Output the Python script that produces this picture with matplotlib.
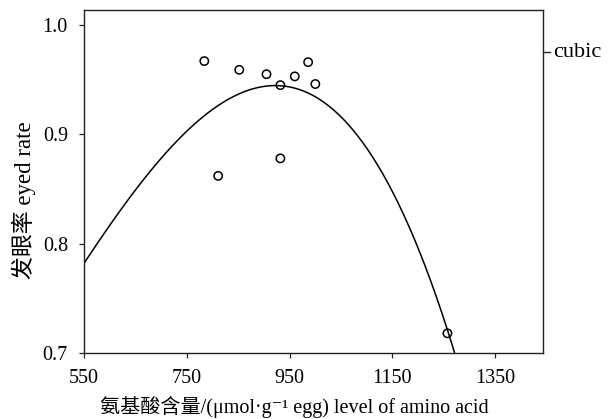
import numpy as np
import matplotlib
matplotlib.use("Agg")
import matplotlib.pyplot as plt

# data
amino_level = [784, 811, 852, 905, 932, 932, 960, 986, 1000, 1257]
eyed_rate = [0.967, 0.862, 0.959, 0.955, 0.945, 0.878, 0.953, 0.966, 0.946, 0.718]
x_ticks = [550, 750, 950, 1150, 1350]
y_ticks = [0.7, 0.8, 0.9, 1.0]

serif = ['Liberation Serif', 'DejaVu Serif']
cjk = ['Liberation Serif', 'Noto Sans CJK SC', 'DejaVu Sans']

fig = plt.figure(figsize=(6.12, 4.19), dpi=100)
ax = fig.add_axes([0.1373, 0.1575, 0.75, 0.8186])

# cubic model as fitted (SPSS "cubic" with the linear term dropped: a + b*x^2 + c*x^3)
x = np.array(amino_level, float)
y = np.array(eyed_rate)
A = np.column_stack([np.ones_like(x), x**2, x**3])
c = np.linalg.lstsq(A, y, rcond=None)[0]
xs = np.linspace(550, 1443, 600)
ax.plot(xs, c[0] + c[1]*xs**2 + c[2]*xs**3, color='black', lw=1.1)

ax.scatter(amino_level, eyed_rate, s=36, facecolors='none', edgecolors='black', linewidths=1.1, zorder=3)

ax.set_xlim(550, 1443)
ax.set_ylim(0.7, 1.0137)
ax.set_xticks(x_ticks)
ax.set_yticks(y_ticks)
ax.set_xticklabels([str(v) for v in x_ticks], fontfamily=serif, fontsize=14.5)
ax.set_yticklabels([f"{v:.1f}" for v in y_ticks], fontfamily=serif, fontsize=14.5)
ax.tick_params(direction='out', length=3.6, width=0.9, color='#222222')
ax.tick_params(axis='y', pad=8)
ax.tick_params(axis='x', pad=8)
for s in ax.spines.values():
    s.set_linewidth(1.0)
    s.set_color('#222222')

fig.text(294/612, 1 - 413/419, '氨基酸含量/(μmol·g⁻¹ egg) level of amino acid',
         fontfamily=cjk, fontsize=14.5, ha='center', va='baseline')
fig.text(24/612, 1 - 200/419, '发眼率 eyed rate', fontfamily=cjk, fontsize=16.5,
         rotation=90, ha='center', va='center')

# legend-like label on the right
ly = (353 - 52) / 343
ax.plot([1.0, 1.015], [ly, ly], transform=ax.transAxes, color='#222222', lw=1.0, clip_on=False)
ax.text(1.022, ly, 'cubic', transform=ax.transAxes, fontfamily=serif, fontsize=16, va='center', ha='left')

fig.savefig('out.png', dpi=100)
